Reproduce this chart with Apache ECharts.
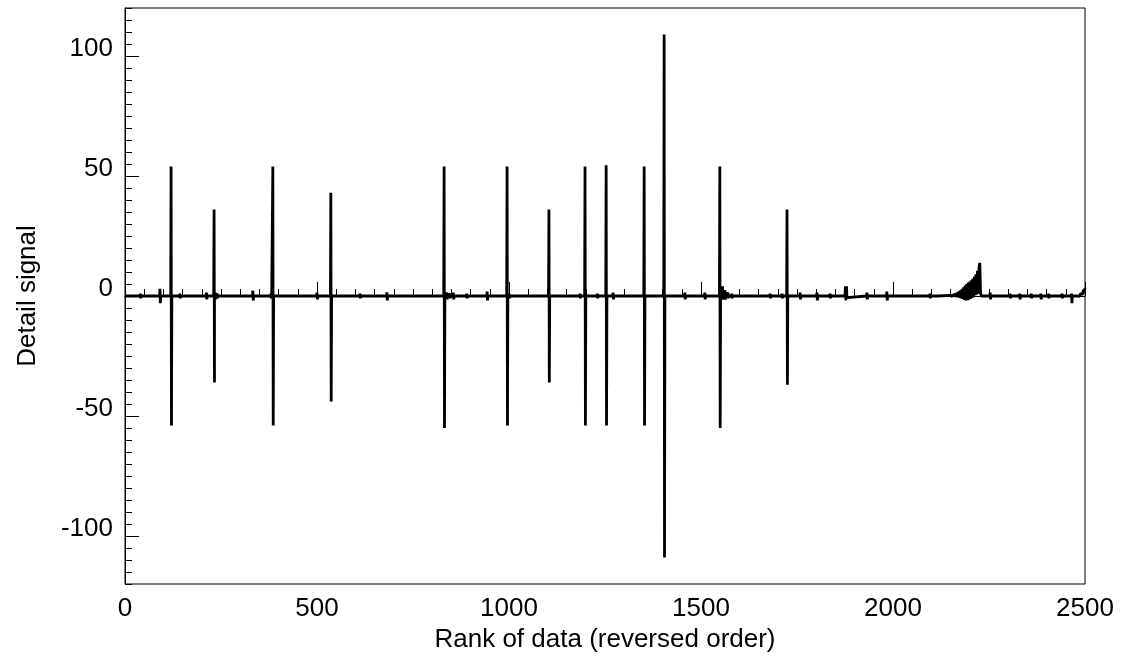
<!DOCTYPE html>
<html>
<head>
<meta charset="utf-8">
<script src="https://cdn.jsdelivr.net/npm/echarts@6/dist/echarts.min.js"></script>
<style>html,body{margin:0;padding:0;background:#fff}#c{width:1125px;height:660px}</style>
</head>
<body>
<div id="c"></div>
<script>
// ---- data ----
const xTicks = [0, 500, 1000, 1500, 2000, 2500];
const yTicks = [-100, -50, 0, 50, 100];
// large detail spikes: position, positive peak, negative peak
const spikeX    = [120, 232, 385, 536, 831, 995, 1104, 1198, 1253, 1352, 1404, 1549, 1724];
const spikeUp   = [54, 36, 54, 43, 54, 54, 36, 54, 54.5, 54, 109, 54, 36];
const spikeDown = [-54, -36, -54, -44, -55, -54, -36, -54, -54, -54, -109, -55, -37];
// small noise bursts: position, positive tip, negative tip
const burstX    = [40, 46, 91, 143, 187, 212, 234, 240, 290, 333, 380, 421, 500, 540, 612, 682, 750, 838, 846, 855, 890, 943, 1000, 1062, 1133, 1185, 1230, 1271, 1323, 1458, 1510, 1556, 1562, 1570, 1580, 1601, 1641, 1680, 1711, 1758, 1802, 1836, 1876, 1879, 1932, 1984, 2023, 2062, 2096, 2118, 2253, 2305, 2330, 2360, 2385, 2405, 2440, 2465];
const burstUp   = [1, 0.8, 3, 1, 0.8, 1.4, 1.5, 1, 0.8, 2.2, 1, 0.7, 1.4, 0.8, 1, 1.5, 0.7, 1.4, 1, 1.4, 1, 1.8, 1, 0.7, 0.7, 1, 1, 1.4, 0.7, 1.4, 1.4, 4, 2.5, 1.4, 1, 0.7, 0.7, 1, 1, 1.4, 1.4, 1, 4, 4, 1.4, 1.8, 0.7, 0.7, 1, 0.7, 1.4, 1, 1, 1, 1, 1, 1, 1];
const burstDown = [-1, -0.8, -3, -1, -0.8, -1.4, -1.5, -1, -0.8, -1.8, -1, -0.7, -1.4, -0.8, -1, -1.8, -0.7, -1.4, -1, -1.4, -1, -1.8, -1, -0.7, -0.7, -1, -1, -1.4, -0.7, -1.4, -1.4, -1.5, -1.5, -1, -1, -0.7, -0.7, -1, -1, -1.4, -1.8, -1, -1.8, -0.7, -1.4, -1.8, -0.7, -0.7, -1, -0.7, -1.4, -1, -1.4, -1, -1.4, -1, -1, -3];
// growing noise before the step near 2228
const rampX = [2148, 2150, 2152, 2154, 2156, 2158, 2160, 2162, 2164, 2166, 2168, 2170, 2172, 2174, 2176, 2178, 2180, 2182, 2184, 2186, 2188, 2190, 2192, 2194, 2196, 2198, 2200, 2202, 2204, 2206, 2208, 2210, 2212, 2214, 2216, 2218, 2220, 2222, 2224, 2226, 2228, 2230];
const rampY = [0.3, -0.2, 0.5, -0.2, 0.7, -0.3, 0.9, -0.3, 1.2, -0.5, 1.5, -0.5, 1.9, -0.8, 2.3, -1.0, 3.0, -1.2, 3.6, -1.6, 4.3, -1.8, 5.0, -1.7, 5.6, -1.4, 5.9, -1.2, 6.5, -0.8, 7.3, -0.5, 8.1, 0.3, 9.0, 0.6, 10.5, 1.0, 12.0, 13.8, 1.2, 0];
// rising noise at the right end
const endX = [2480, 2484, 2486, 2488, 2490, 2492, 2494, 2496, 2498, 2500];
const endY = [0, 0.5, -0.2, 1.0, 0.3, 1.7, 0.7, 2.6, 1.3, 3.2];

// ---- build the line from the features ----
const pts = [[0, 0]];
spikeX.forEach((x, i) => { pts.push([x - 1, 0], [x, spikeUp[i]], [x + 1, spikeDown[i]], [x + 2, 0]); });
burstX.forEach((x, i) => { pts.push([x - 1, 0], [x, burstUp[i]], [x + 1, burstDown[i]], [x + 2, 0]); });
rampX.forEach((x, i) => pts.push([x, rampY[i]]));
endX.forEach((x, i) => pts.push([x, endY[i]]));
pts.sort((a, b) => a[0] - b[0]);

const yMinor = [];
for (let v = -120; v <= 120; v += 5) if (yTicks.indexOf(v) < 0) yMinor.push(v);

const font = 'Liberation Sans, Arial, sans-serif';
const chart = echarts.init(document.getElementById('c'), null, {renderer: 'canvas'});
chart.setOption({
  animation: false,
  backgroundColor: '#fff',
  grid: {left: 125, right: 40, top: 8, bottom: 76, show: true, borderColor: '#000', borderWidth: 1, backgroundColor: 'transparent'},
  xAxis: {
    type: 'value', min: 0, max: 2500, interval: 500,
    name: 'Rank of data (reversed order)', nameLocation: 'middle', nameGap: 43,
    nameTextStyle: {fontFamily: font, fontSize: 26, color: '#000'},
    axisLine: {show: true, lineStyle: {color: '#000', width: 1}},
    axisTick: {show: true, inside: true, length: 14, lineStyle: {color: '#000', width: 1}},
    minorTick: {show: true, splitNumber: 10, length: 7, lineStyle: {color: '#000', width: 1}},
    axisLabel: {fontFamily: font, fontSize: 26, color: '#000', margin: 12,
      customValues: xTicks, formatter: v => String(v)},
    splitLine: {show: false}
  },
  yAxis: [{
    type: 'value', min: -120, max: 120, position: 'left',
    name: 'Detail signal', nameLocation: 'middle', nameGap: 84, nameRotate: 90,
    nameTextStyle: {fontFamily: font, fontSize: 26, color: '#000'},
    axisLine: {show: true, lineStyle: {color: '#000', width: 1}},
    axisTick: {show: true, inside: true, length: 14, customValues: yTicks, lineStyle: {color: '#000', width: 1}},
    axisLabel: {fontFamily: font, fontSize: 26, color: '#000', margin: 12, customValues: yTicks,
      formatter: v => String(v), verticalAlign: 'bottom', lineHeight: 14},
    splitLine: {show: false}
  }, {
    type: 'value', min: -120, max: 120, position: 'left',
    axisLine: {show: false},
    axisTick: {show: true, inside: true, length: 7, customValues: yMinor, lineStyle: {color: '#000', width: 1}},
    axisLabel: {show: false},
    splitLine: {show: false}
  }],
  series: [{
    type: 'line', data: pts, yAxisIndex: 0, showSymbol: false, symbol: 'none',
    lineStyle: {color: '#000', width: 2.8}, z: 3
  }]
});
</script>
</body>
</html>
